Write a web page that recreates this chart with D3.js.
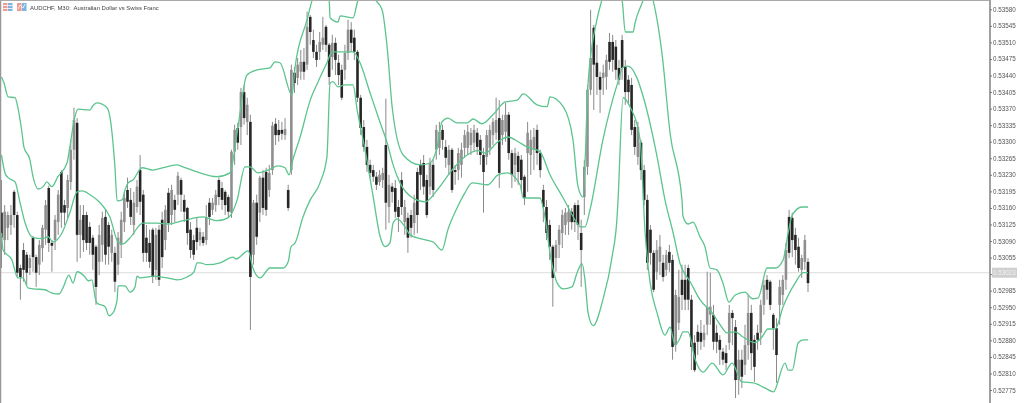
<!DOCTYPE html>
<html>
<head>
<meta charset="utf-8">
<style>
    html, body { margin: 0; padding: 0; background: #fff; overflow: hidden; }
    svg { display: block; font-family: "Liberation Sans", sans-serif; }
    .axis text { font-size: 6.3px; fill: #555; }
    .axis line { stroke: #777; }
    .axis path { stroke: #a0a0a0; stroke-width: 2; }
    .soft { filter: blur(0.45px); }
</style>
</head>
<body>
<svg id="container" width="1024" height="403"></svg>
<script src="https://cdnjs.cloudflare.com/ajax/libs/d3/7.8.5/d3.min.js"></script>
<script>
    // all prices are in points (1 point = 0.00001)
    let title = "AUDCHF, M30:  Australian Dollar vs Swiss Franc"
    let lastPrice = 53023
    let priceTicks = [53580,53545,53510,53475,53440,53405,53370,53335,53300,53265,53230,53195,53160,53125,53090,53055,53020,52985,52950,52915,52880,52845,52810,52775]

    let highs = [
        53219,53166,53152,53166,53198,53152,53040,53086,53067,53061,
        53101,53061,53092,53124,53177,53207,53092,53145,53198,53240,
        53177,53230,53304,53372,53350,53166,53166,53152,53130,53103,
        53082,53124,53152,53156,53130,53114,53078,53109,53152,53194,
        53224,53202,53194,53219,53272,53198,53124,53114,53118,53118,
        53124,53152,53166,53202,53209,53188,53236,53224,53188,53162,
        53130,53103,53139,53118,53109,53166,53181,53181,53198,53224,
        53215,53198,53188,53283,53336,53340,53414,53418,53393,53357,
        53177,53188,53228,53240,53245,53251,53342,53350,53346,53342,
        53350,53209,53463,53458,53477,53494,53498,53575,53568,53537,
        53505,53532,53564,53547,53509,53526,53520,53484,53463,53505,
        53558,53553,53537,53494,53399,53346,53304,53262,53251,53236,
        53240,53245,53391,53230,53213,53219,53177,53236,53177,53150,
        53156,53188,53245,53262,53272,53230,53266,53262,53336,53342,
        53336,53304,53293,53287,53251,53287,53298,53325,53336,53329,
        53336,53329,53314,53287,53325,53336,53350,53393,53388,53357,
        53382,53363,53283,53287,53279,53272,53230,53342,53325,53329,
        53336,53283,53209,53177,53135,53082,53092,53124,53156,53160,
        53166,53160,53171,53177,53135,53262,53420,53579,53547,53505,
        53448,53463,53484,53530,53526,53515,53473,53526,53473,53441,
        53435,53346,53342,53304,53251,53188,53124,53071,53092,53103,
        53061,53071,53082,53061,52987,53029,53040,53040,53040,52976,
        52891,52913,52923,52913,53025,53023,52955,52913,52891,52864,
        52870,52955,52944,52923,52860,52860,52913,52976,52955,52891,
        52913,52966,53008,53018,53008,52938,52927,53008,53018,53086,
        53156,53150,53118,53097,53061,53103,53054
    ]
    let lows = [
        53033,53061,53092,53103,53118,53014,52966,53004,52997,53018,
        53025,52993,53018,53046,53082,53067,53025,53071,53103,53118,
        53124,53139,53198,53262,53046,53054,53067,53071,53061,53029,
        52955,53018,53046,53040,53040,53046,52982,53018,53054,53109,
        53160,53124,53103,53150,53145,53046,53046,53033,53001,53008,
        52995,53033,53071,53109,53124,53130,53166,53152,53130,53082,
        53054,53050,53071,53080,53080,53082,53124,53145,53152,53166,
        53156,53145,53139,53139,53251,53283,53293,53336,53314,52902,
        53040,53082,53130,53145,53143,53183,53230,53293,53300,53304,
        53304,53154,53230,53403,53420,53431,53431,53452,53505,53477,
        53458,53473,53494,53490,53420,53452,53441,53420,53388,53431,
        53473,53490,53473,53384,53314,53279,53236,53224,53215,53198,
        53207,53202,53114,53128,53171,53139,53109,53145,53103,53065,
        53097,53103,53107,53198,53188,53139,53188,53183,53262,53272,
        53283,53245,53230,53192,53209,53219,53224,53266,53272,53272,
        53279,53272,53251,53150,53251,53272,53293,53304,53202,53293,
        53300,53262,53202,53215,53209,53198,53166,53194,53230,53240,
        53251,53224,53130,53092,53050,52951,53025,53054,53075,53103,
        53103,53114,53109,53092,52993,53145,53230,53399,53367,53399,
        53361,53399,53410,53452,53448,53431,53420,53431,53378,53378,
        53314,53272,53251,53219,53166,53029,53040,52982,53008,53018,
        53004,53016,53025,52839,52856,52902,52944,52944,52944,52817,
        52813,52849,52860,52866,52891,52913,52860,52853,52828,52828,
        52817,52860,52870,52758,52765,52779,52807,52839,52817,52792,
        52860,52870,52934,52966,52944,52860,52790,52913,52955,52987,
        53054,53056,53040,53025,53012,53029,52982
    ]
    let opens = [
        53150,53092,53118,53124,53194,53145,53033,53071,53061,53033,
        53097,53056,53040,53075,53114,53202,53086,53092,53130,53236,
        53166,53160,53215,53283,53340,53103,53145,53145,53120,53097,
        53078,53046,53082,53141,53124,53065,53065,53040,53082,53130,
        53198,53177,53124,53162,53240,53188,53097,53086,53114,53029,
        53114,53135,53092,53192,53145,53177,53188,53219,53177,53160,
        53114,53092,53118,53092,53099,53092,53171,53156,53166,53219,
        53202,53194,53183,53150,53279,53329,53331,53405,53342,53342,
        53061,53171,53150,53224,53236,53198,53240,53338,53325,53325,
        53314,53198,53240,53446,53435,53448,53469,53463,53564,53515,
        53490,53490,53505,53543,53505,53479,53509,53467,53452,53452,
        53488,53537,53520,53490,53393,53331,53289,53251,53240,53226,
        53215,53219,53293,53162,53205,53202,53162,53219,53130,53139,
        53145,53128,53236,53251,53255,53219,53205,53251,53283,53287,
        53325,53289,53251,53283,53240,53240,53251,53287,53287,53293,
        53298,53319,53304,53272,53268,53287,53314,53319,53350,53314,
        53321,53357,53276,53251,53270,53262,53226,53276,53272,53283,
        53325,53276,53198,53162,53124,53078,53054,53082,53107,53124,
        53130,53152,53166,53166,53107,53183,53247,53410,53541,53467,
        53437,53435,53437,53511,53511,53501,53456,53515,53458,53431,
        53420,53331,53268,53298,53240,53177,53114,53065,53025,53046,
        53044,53029,53067,53050,52870,52917,53008,53008,53033,52966,
        52875,52898,52896,52881,52913,52934,52934,52896,52881,52856,
        52853,52875,52938,52908,52796,52839,52828,52870,52938,52881,
        52896,52896,52955,53008,53004,52934,52906,52955,52976,53008,
        53141,53139,53103,53078,53029,53046,53046
    ]
    let closes = [
        53097,53152,53145,53145,53145,53023,53014,53029,53023,53054,
        53056,53023,53082,53118,53166,53086,53080,53135,53188,53150,
        53150,53219,53283,53346,53103,53135,53092,53086,53086,53061,
        52993,53103,53139,53061,53078,53103,53004,53097,53135,53181,
        53173,53141,53171,53205,53173,53065,53065,53046,53014,53103,
        53008,53056,53156,53128,53198,53156,53228,53188,53152,53107,
        53071,53061,53088,53109,53086,53139,53141,53171,53188,53183,
        53177,53166,53152,53279,53325,53298,53405,53350,53378,53014,
        53171,53099,53224,53160,53156,53234,53334,53314,53314,53317,
        53327,53160,53452,53424,53463,53469,53448,53543,53532,53490,
        53473,53511,53520,53505,53437,53509,53473,53441,53393,53488,
        53537,53509,53490,53393,53329,53289,53251,53234,53226,53209,
        53230,53234,53171,53209,53194,53152,53141,53162,53162,53097,
        53118,53171,53145,53230,53205,53145,53255,53198,53325,53321,
        53304,53266,53283,53198,53236,53276,53283,53314,53321,53319,
        53325,53289,53272,53236,53314,53325,53342,53346,53234,53346,
        53357,53276,53230,53276,53236,53219,53181,53319,53304,53310,
        53276,53240,53162,53107,53078,53012,53082,53114,53145,53150,
        53152,53130,53130,53124,53071,53247,53410,53477,53463,53437,
        53410,53446,53473,53469,53473,53452,53431,53456,53405,53405,
        53325,53289,53331,53240,53177,53044,53065,52987,53071,53078,
        53014,53061,53044,52866,52976,52972,52976,52966,52966,52866,
        52817,52877,52877,52896,52951,52951,52877,52877,52860,52839,
        52832,52938,52927,52796,52839,52803,52870,52938,52853,52824,
        52881,52955,52997,52987,52955,52906,52849,52993,53008,53071,
        53065,53092,53071,53033,53054,53092,53001
    ]

    // bollinger bands, read at the bars where the lines bend
    let upperBars = [0,0.8,2.1,4.3,5.2,6.5,7.1,9,10,11.6,13.2,14.4,16,17.9,20.8,21.7,23.3,24.3,28.1,29,30.3,33.5,34.4,36,36.7,38.3,39.2,40.2,41.7,44.6,48.1,51.3,55.7,57.6,62.1,68.4,72.5,74.8,77.9,81.1,85.2,86.8,88.4,92.2,93.2,97,98.6,101.1,104,104.3,106.8,107.5,111.6,113.2,115.7,118.6,120.8,122.4,124,127.5,132.9,136,138.3,139.8,141.7,144.6,147.8,149.7,152.5,156,159.9,163.7,165.6,170,173.2,174.1,178.3,181.4,183,184.6,186.2,189,190.6,193.8,197,198,200.5,201.1,203.7,205.2,206.8,209.7,212.2,216,216.3,217.9,219.5,221.7,223.3,224.9,227.1,229,230.9,232.9,236,238.3,240.2,243,245.6,248.1,249.7,251,254.1,256]
    let upperVals = [53437,53424,53395,53393,53372,53319,53289,53262,53226,53200,53205,53215,53205,53226,53255,53289,53353,53369,53367,53376,53382,53372,53353,53247,53175,53177,53198,53213,53219,53245,53240,53245,53251,53247,53236,53226,53234,53319,53441,53452,53456,53469,53467,53399,53458,53558,53600,53653,53600,53562,53553,53566,53562,53600,53617,53600,53579,53501,53374,53272,53251,53255,53289,53342,53350,53340,53340,53348,53338,53357,53384,53388,53401,53378,53374,53395,53374,53304,53205,53183,53424,53558,53600,53663,53600,53532,53532,53551,53600,53632,53600,53484,53319,53177,53143,53126,53130,53099,53078,53033,53029,53001,52961,52976,52982,52968,52970,53033,53033,53050,53107,53145,53162,53162]
    let middleBars = [0,1.1,2.1,4.3,5.9,7.5,10,12.9,14.8,16.3,19.2,21.7,24,25.6,28.1,31.3,34.4,37,38.6,40.8,44.9,49.4,52.9,57.6,64,68.4,71.9,74.8,77.3,78.9,81.4,84.6,87.8,90,91.3,92.5,94.8,98,100.5,103.3,104.9,111.6,113.8,117,120.2,122.4,124.3,126.5,130.6,134.5,138.3,143,147.8,151.3,153.5,157.6,160.8,164,166.8,170.9,174.1,178.3,182.7,183.7,185.2,186.8,190.9,195.7,197.3,198.9,201.7,203.7,208.1,210.6,213.2,215.4,218.6,221.7,225.6,228.1,230.3,232.9,235.4,239.2,241.4,243.3,245.6,248.1,251.9,254.5,256]
    let middleVals = [53272,53234,53224,53215,53171,53128,53097,53095,53099,53088,53107,53150,53194,53196,53188,53171,53141,53088,53084,53097,53128,53128,53126,53133,53141,53133,53139,53177,53247,53247,53234,53240,53249,53245,53230,53262,53310,53388,53427,53467,53490,53490,53467,53403,53340,53298,53251,53213,53181,53173,53198,53240,53272,53281,53276,53300,53310,53300,53289,53279,53230,53181,53128,53120,53120,53156,53304,53427,53458,53460,53435,53395,53268,53177,53107,53042,53004,52966,52938,52913,52896,52898,52887,52875,52887,52904,52904,52951,53001,53023,53023]
    let lowerBars = [0,0.5,3.3,5.2,6.8,8.4,10,13.8,16,18.3,19.5,21.4,22.7,24,26.5,27.5,28.7,29.7,30.3,32.9,34.1,35.4,36.7,37,39.2,40.8,42.4,43,44,46.5,48.1,52.5,55.7,58.9,61.1,62.1,63,65.2,69.4,73.5,74.4,78.3,79.8,82.1,85.2,89.4,91,91.9,93.2,95.7,98,101.1,103.3,104.3,105.2,106.8,109,111.6,112.9,115.4,118,120.2,121.8,123.3,124.3,125.6,128.1,129.7,132.9,137,139.8,141.7,144.6,147.1,149.4,154.4,157.6,160.5,164.6,165.6,170.9,172.5,174.1,176.4,178.3,181.1,182.7,184.3,185.2,186.2,187.8,190.9,193.8,195.4,195.7,197.3,199.5,202.7,204.3,205.9,208.1,210.6,212.2,213.8,215.4,216.3,217.9,220.2,222.7,225.6,229,231.9,235,238.6,242.4,245,248.7,249.7,251,252.9,254.5,256]
    let lowerVals = [53107,53071,53050,53012,53012,52991,52989,52987,52980,52978,52991,53018,53001,53025,53014,53006,53008,52972,52959,52951,52932,52938,52966,52995,52995,52982,52993,53016,53012,53014,53016,53012,53008,53014,53025,53044,53044,53040,53044,53056,53052,53069,53033,53012,53033,53033,53046,53078,53086,53141,53177,53213,53268,53424,53427,53416,53420,53420,53367,53283,53183,53099,53078,53086,53128,53137,53120,53103,53095,53088,53071,53114,53160,53192,53213,53209,53230,53234,53209,53181,53181,53141,53065,53001,52989,52993,53023,53042,53008,52938,52911,52966,53056,53141,53177,53393,53374,53304,53107,53001,52938,52891,52908,52870,52885,52898,52898,52839,52813,52832,52807,52832,52792,52790,52779,52771,52832,52817,52817,52875,52881,52881]

    let svg = d3.select("#container")
    let bars = d3.range(highs.length)

    let x = d3.scaleLinear().domain([0, highs.length - 1]).range([1.5, 808])
    let y = d3.scaleLinear().domain([52775, 53580]).range([390, 9.3])

    svg.append("clipPath").attr("id", "plot")
        .append("rect").attr("x", 1).attr("y", 1).attr("width", 988).attr("height", 402)

    // last price line goes under the candles
    svg.append("line")
        .attr("x1", 0).attr("x2", 989)
        .attr("y1", y(lastPrice)).attr("y2", y(lastPrice))
        .attr("stroke", "#dcdcdc")

    let body = svg.append("g").attr("clip-path", "url(#plot)").attr("class", "soft")

    let candle = body.selectAll("g.candle")
        .data(bars)
        .enter()
        .append("g")
        .attr("class", "candle")

    candle.append("line")
        .attr("x1", d => x(d)).attr("x2", d => x(d))
        .attr("y1", d => y(highs[d])).attr("y2", d => y(lows[d]))
        .attr("stroke", "#8a8a8a")

    candle.append("rect")
        .attr("x", d => x(d) - 1.3)
        .attr("width", 2.6)
        .attr("y", d => y(Math.max(opens[d], closes[d])))
        .attr("height", d => Math.max(1, Math.abs(y(opens[d]) - y(closes[d]))))
        .attr("fill", d => closes[d] >= opens[d] ? "#8f8f8f" : "#262626")

    // three band lines on top of the candles
    let bandLine = d3.line().x(d => x(d[0])).y(d => y(d[1])).curve(d3.curveMonotoneX)
    let bands = [[upperBars, upperVals], [middleBars, middleVals], [lowerBars, lowerVals]]
    bands.forEach(b => {
        body.append("path")
            .attr("d", bandLine(d3.zip(b[0], b[1])))
            .attr("fill", "none")
            .attr("stroke", "#5cc48e")
            .attr("stroke-width", 1.3)
    })

    // frame, left and top
    svg.append("line").attr("x1", 0.5).attr("x2", 0.5).attr("y1", 0).attr("y2", 403).attr("stroke", "#999").attr("stroke-width", 1.5)
    svg.append("line").attr("x1", 0).attr("x2", 990).attr("y1", 0.5).attr("y2", 0.5).attr("stroke", "#aaa")

    // price axis on the right
    let axis = d3.axisRight(y)
        .tickValues(priceTicks)
        .tickSize(2)
        .tickSizeOuter(0)
        .tickPadding(1)
        .tickFormat(d => (d / 100000).toFixed(5))

    let axisG = svg.append("g")
        .attr("class", "axis soft")
        .attr("transform", "translate(990,0)")
        .call(axis)
    axisG.select(".domain").attr("d", "M0,0V403")

    // last price tag
    let tag = svg.append("g").attr("class", "soft").attr("transform", `translate(992,${y(lastPrice)})`)
    tag.append("rect").attr("y", -5).attr("width", 25).attr("height", 10).attr("fill", "#cfcfcf")
    tag.append("text").attr("x", 1).attr("dy", "0.32em").attr("font-size", 6.3).attr("fill", "#f2f2f2")
        .text((lastPrice / 100000).toFixed(5))

    // small one click trading icons in the corner
    let icons = svg.append("g").attr("class", "soft").attr("transform", "translate(3,3)")
    icons.append("rect").attr("width", 4.5).attr("height", 8).attr("fill", "#f09a94")
    icons.append("rect").attr("x", 5).attr("width", 4.5).attr("height", 8).attr("fill", "#7db3e0")
    icons.append("rect").attr("x", 14).attr("width", 4.5).attr("height", 8).attr("fill", "#f09a94")
    icons.append("rect").attr("x", 19).attr("width", 4.5).attr("height", 8).attr("fill", "#7db3e0")
    icons.append("path").attr("d", "M15,6L17,2L20,5L22,1").attr("fill", "none").attr("stroke", "#fff").attr("stroke-width", 0.8)
    icons.append("path").attr("d", "M0,2.5H9.5M0,5.5H9.5").attr("stroke", "#fff").attr("stroke-width", 0.8)

    svg.append("text")
        .attr("class", "soft")
        .attr("x", 30).attr("y", 9.5)
        .attr("font-size", 5.95)
        .attr("fill", "#444")
        .style("white-space", "pre")
        .text(title)
</script>
</body>
</html>
